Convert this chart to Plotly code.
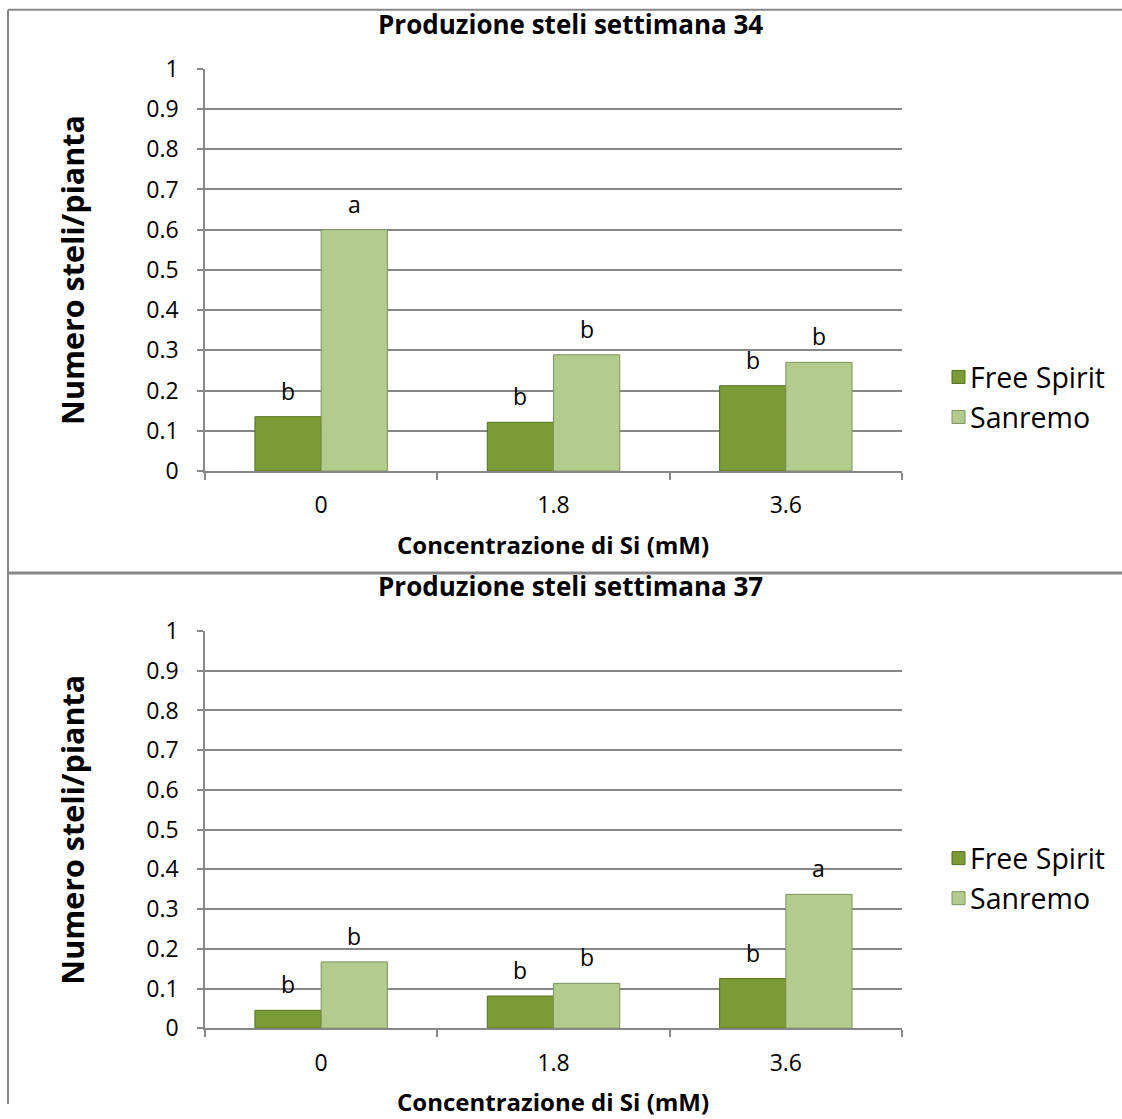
import plotly.graph_objects as go

# Data
categories = ["0", "1.8", "3.6"]
series_names = ["Free Spirit", "Sanremo"]

wk34_free_spirit = [0.135, 0.121, 0.212]
wk34_sanremo = [0.600, 0.289, 0.270]
wk34_letters_fs = ["b", "b", "b"]
wk34_letters_sr = ["a", "b", "b"]

wk37_free_spirit = [0.045, 0.081, 0.125]
wk37_sanremo = [0.167, 0.113, 0.337]
wk37_letters_fs = ["b", "b", "b"]
wk37_letters_sr = ["b", "b", "a"]

titles = ["Produzione steli settimana 34", "Produzione steli settimana 37"]
x_title = "Concentrazione di Si (mM)"
y_title = "Numero steli/pianta"

W, H = 1122, 1119
FONT = "Open Sans"
GRID = "#878787"
FS_COLOR = "#7a9b35"
FS_LINE = "#556f1f"
SR_COLOR = "#b3cb8c"
SR_LINE = "#7f935f"

BARGAP = 0.43
HALF = (1 - BARGAP) / 4  # centre offset of each bar inside its group

# vertical layout calibration (offset / scale of the page layout)
Y_OFF, Y_SCALE = 17.2, 0.971


def px_x(x):
    return x / W


def px_y(y):
    return 1 - ((y - Y_OFF) / Y_SCALE) / H


fig = go.Figure()

panels = [
    dict(fs=wk34_free_spirit, sr=wk34_sanremo, lfs=wk34_letters_fs, lsr=wk34_letters_sr,
         top=69, bottom=471, legend_y=377, title=titles[0], xa="x", ya="y"),
    dict(fs=wk37_free_spirit, sr=wk37_sanremo, lfs=wk37_letters_fs, lsr=wk37_letters_sr,
         top=631, bottom=1028, legend_y=858, title=titles[1], xa="x2", ya="y2"),
]

annotations = []
shapes = []

for i, p in enumerate(panels):
    fig.add_trace(go.Bar(x=categories, y=p["fs"], name=series_names[0],
                         marker=dict(color=FS_COLOR, line=dict(color=FS_LINE, width=1)),
                         xaxis=p["xa"], yaxis=p["ya"], showlegend=False))
    fig.add_trace(go.Bar(x=categories, y=p["sr"], name=series_names[1],
                         marker=dict(color=SR_COLOR, line=dict(color=SR_LINE, width=1)),
                         xaxis=p["xa"], yaxis=p["ya"], showlegend=False))

    # significance letters above each bar
    for j in range(len(categories)):
        for val, lab, off in ((p["fs"][j], p["lfs"][j], -HALF), (p["sr"][j], p["lsr"][j], HALF)):
            annotations.append(dict(x=j + off, y=val, xref=p["xa"], yref=p["ya"], text=lab,
                                    showarrow=False, yanchor="bottom", yshift=8,
                                    font=dict(family=FONT, size=23, color="#000")))

    # chart title
    annotations.append(dict(x=px_x(570), y=px_y(p["top"] - 45), xref="paper", yref="paper",
                            text="<b>" + p["title"] + "</b>", showarrow=False,
                            xanchor="center", yanchor="middle",
                            font=dict(family=FONT, size=26, color="#000")))
    # x axis title
    annotations.append(dict(x=px_x(553), y=px_y(p["bottom"] + 73), xref="paper", yref="paper",
                            text="<b>" + x_title + "</b>", showarrow=False,
                            xanchor="center", yanchor="middle",
                            font=dict(family=FONT, size=24, color="#000")))
    # y axis title
    annotations.append(dict(x=px_x(72), y=px_y((p["top"] + p["bottom"]) / 2), xref="paper",
                            yref="paper", text="<b>" + y_title + "</b>", showarrow=False,
                            textangle=-90, xanchor="center", yanchor="middle",
                            font=dict(family=FONT, size=30.5, color="#000")))

    # legend
    for k, (nm, col, lc) in enumerate(((series_names[0], FS_COLOR, FS_LINE),
                                       (series_names[1], SR_COLOR, SR_LINE))):
        cy = p["legend_y"] + 40 * k
        shapes.append(dict(type="rect", xref="paper", yref="paper",
                           x0=px_x(952), x1=px_x(965), y0=px_y(cy - 6.5), y1=px_y(cy + 6.5),
                           fillcolor=col, line=dict(color=lc, width=1)))
        annotations.append(dict(x=px_x(968), y=px_y(cy), xref="paper", yref="paper",
                                text=nm, showarrow=False, xanchor="left", yanchor="middle",
                                font=dict(family=FONT, size=28.5, color="#000")))

# chart frames
frame = dict(color=GRID, width=2)
shapes.append(dict(type="line", xref="paper", yref="paper", x0=px_x(8), x1=1,
                   y0=px_y(10), y1=px_y(10), line=frame))
shapes.append(dict(type="line", xref="paper", yref="paper", x0=px_x(8), x1=px_x(8),
                   y0=0, y1=px_y(10), line=frame))
shapes.append(dict(type="line", xref="paper", yref="paper", x0=px_x(8), x1=1,
                   y0=px_y(573), y1=px_y(573), line=dict(color=GRID, width=3)))

xaxis_common = dict(type="category", domain=[px_x(205), px_x(902)], showline=True,
                    linecolor=GRID, linewidth=1.5, ticks="outside", tickson="boundaries",
                    ticklen=7, tickcolor=GRID, tickwidth=1.5, showgrid=False,
                    tickfont=dict(family=FONT, size=23, color="#000"),
                    ticklabelstandoff=13, fixedrange=True)
yaxis_common = dict(range=[0, 1], dtick=0.1, tick0=0, showline=True, linecolor=GRID,
                    linewidth=1.5, ticks="outside", ticklen=6, tickcolor=GRID, tickwidth=1.5,
                    showgrid=True, gridcolor=GRID, gridwidth=1.5, zeroline=False,
                    tickfont=dict(family=FONT, size=23, color="#000"),
                    ticklabelstandoff=14, fixedrange=True)

fig.update_layout(
    width=W, height=H,
    margin=dict(l=0, r=0, t=0, b=0),
    paper_bgcolor="white", plot_bgcolor="white",
    barmode="group", bargap=BARGAP, bargroupgap=0,
    xaxis=dict(xaxis_common, anchor="y"),
    yaxis=dict(yaxis_common, domain=[px_y(471), px_y(69)], anchor="x"),
    xaxis2=dict(xaxis_common, anchor="y2"),
    yaxis2=dict(yaxis_common, domain=[px_y(1028), px_y(631)], anchor="x2"),
    annotations=annotations,
    shapes=shapes,
    showlegend=False,
)

fig.write_html("out.html")
